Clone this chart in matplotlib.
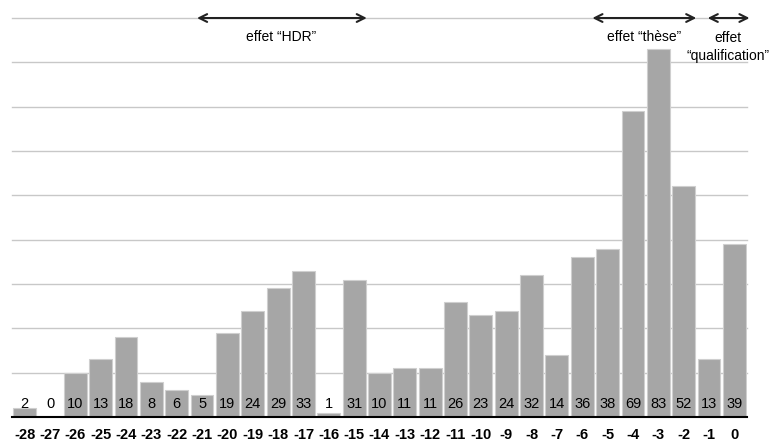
import matplotlib.pyplot as plt

plt.rcParams['font.family'] = ['Liberation Sans', 'DejaVu Sans']

# years relative to the event, and counts per year
years = [-28, -27, -26, -25, -24, -23, -22, -21, -20, -19, -18, -17, -16, -15,
         -14, -13, -12, -11, -10, -9, -8, -7, -6, -5, -4, -3, -2, -1, 0]
counts = [2, 0, 10, 13, 18, 8, 6, 5, 19, 24, 29, 33, 1, 31,
          10, 11, 11, 26, 23, 24, 32, 14, 36, 38, 69, 83, 52, 13, 39]
grid_levels = [10, 20, 30, 40, 50, 60, 70, 80, 90]

# annotated periods: (start, end, text position, label)
periods = [
    (-21.2, -14.5, -17.9, 'effet \u201cHDR\u201d'),
    (-5.6, -1.5, -3.55, 'effet \u201cth\u00e8se\u201d'),
    (-1.05, 0.6, -0.25, 'effet\n\u201cqualification\u201d'),
]

fig = plt.figure(figsize=(7.7, 4.44), dpi=100)
ax = fig.add_axes([0.0156, 0.0608, 0.9545, 0.9036])

# horizontal grid lines
for g in grid_levels:
    ax.axhline(g, color='#c8c8c8', linewidth=1, zorder=0, clip_on=False)

ax.bar(years, counts, width=0.9, color='#a6a6a6', edgecolor='#cfcfcf',
       linewidth=0.8, zorder=2)

# value labels near the bottom of each bar
for x, v in zip(years, counts):
    ax.text(x, 3, str(v), ha='center', va='center', fontsize=10.5, zorder=3)

ax.set_xlim(-28.5, 0.5)
ax.set_ylim(0, 90.5)
ax.set_yticks([])

ax.set_xticks(years)
ax.set_xticklabels([str(y) for y in years], fontsize=10.5, fontweight='bold')
ax.tick_params(axis='x', length=0, pad=8)

for s in ['left', 'right', 'top']:
    ax.spines[s].set_visible(False)
ax.spines['bottom'].set_linewidth(1.5)
ax.spines['bottom'].set_color('black')

for x0, x1, xt, label in periods:
    ax.annotate('', xy=(x0, 90), xytext=(x1, 90),
                arrowprops=dict(arrowstyle='<->', color='#222222', lw=1.5,
                                mutation_scale=14, shrinkA=0, shrinkB=0),
                annotation_clip=False)
    yt = 85.8 if '\n' not in label else 83.5
    ax.text(xt, yt, label, ha='center', va='center', fontsize=10,
            linespacing=1.35, clip_on=False)

plt.savefig('out.png', dpi=100)
